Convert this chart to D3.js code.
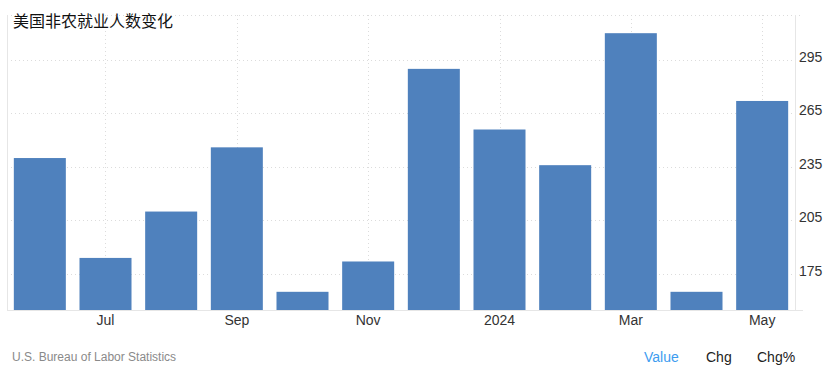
<!DOCTYPE html>
<html>
<head>
<meta charset="utf-8">
<script src="https://cdn.jsdelivr.net/npm/d3@7"></script>
<style>
  html, body { margin: 0; padding: 0; background: #fff; }
  svg { display: block; font-family: "Liberation Sans", Arial, sans-serif; }
</style>
</head>
<body>
<svg id="chart" width="836" height="371"></svg>
<script>
const months = ["Jun", "Jul", "Aug", "Sep", "Oct", "Nov", "Dec", "2024", "Feb", "Mar", "Apr", "May"];
const values = [240, 184, 210, 246, 165, 182, 290, 256, 236, 310, 165, 272];
const shownLabels = ["Jul", "Sep", "Nov", "2024", "Mar", "May"];
const yTicks = [175, 205, 235, 265, 295];
const title = "美国非农就业人数变化";
const source = "U.S. Bureau of Labor Statistics";
const buttons = ["Value", "Chg", "Chg%"];

(function () {
const svg = d3.select("#chart");
const pLeft = 7, pRight = 795, pTop = 15, pBottom = 310;

const x = d3.scaleBand().domain(months).range([pLeft, pRight]).paddingInner(0.208).paddingOuter(0.104);
const y = d3.scaleLinear().domain([154.8, 320.2]).range([pBottom, pTop]);

// horizontal grid
svg.append("g").selectAll("line").data(yTicks.concat([320.2])).join("line")
  .attr("x1", pLeft).attr("x2", pRight + 6)
  .attr("y1", d => Math.round(y(d)) + 0.5).attr("y2", d => Math.round(y(d)) + 0.5)
  .attr("stroke", "#dcdcdc").attr("stroke-width", 1).attr("stroke-dasharray", "1,3");

// vertical grid
svg.append("g").selectAll("line").data(shownLabels).join("line")
  .attr("x1", d => Math.round(x(d) + x.bandwidth() / 2) + 0.5)
  .attr("x2", d => Math.round(x(d) + x.bandwidth() / 2) + 0.5)
  .attr("y1", pTop).attr("y2", pBottom)
  .attr("stroke", "#dcdcdc").attr("stroke-width", 1).attr("stroke-dasharray", "1,3");

// bars
svg.append("g").selectAll("rect").data(values).join("rect")
  .attr("x", (d, i) => x(months[i]))
  .attr("width", x.bandwidth())
  .attr("y", d => y(d))
  .attr("height", d => pBottom - y(d))
  .attr("fill", "#4f81bd");

// axis frame lines
svg.append("line").attr("x1", pLeft + 0.5).attr("x2", pLeft + 0.5).attr("y1", pTop).attr("y2", pBottom)
  .attr("stroke", "#e6e6e6");
svg.append("line").attr("x1", pRight + 0.5).attr("x2", pRight + 0.5).attr("y1", pTop).attr("y2", pBottom)
  .attr("stroke", "#e6e6e6");
svg.append("line").attr("x1", pLeft).attr("x2", pRight + 8).attr("y1", pBottom + 0.5).attr("y2", pBottom + 0.5)
  .attr("stroke", "#e6e6e6");

// x axis labels
const xAxis = d3.axisBottom(x).tickValues(shownLabels).tickSize(0).tickPadding(0);
const gx = svg.append("g").attr("transform", `translate(0,${pBottom})`).call(xAxis);
gx.select(".domain").remove();
gx.selectAll("text").attr("font-size", 14).attr("fill", "#333").attr("dy", null).attr("y", 15)
  .attr("font-family", "'Liberation Sans', Arial, sans-serif");

// y axis labels (right)
const yAxis = d3.axisRight(y).tickValues(yTicks).tickSize(0).tickPadding(0);
const gy = svg.append("g").attr("transform", `translate(${pRight + 4},0)`).call(yAxis);
gy.select(".domain").remove();
gy.selectAll("text").attr("font-size", 14).attr("fill", "#333").attr("dy", "0.32em").attr("y", -3)
  .attr("font-family", "'Liberation Sans', Arial, sans-serif");

// title
svg.append("text").attr("x", 13).attr("y", 27).attr("font-size", 16).attr("fill", "#111")
  .attr("font-family", "'Noto Sans CJK SC', sans-serif").text(title);

// source
svg.append("text").attr("x", 12).attr("y", 361).attr("font-size", 12).attr("fill", "#8a8a8a").text(source);

// buttons
const bx = [644, 706, 757];
svg.append("g").selectAll("text").data(buttons).join("text")
  .attr("x", (d, i) => bx[i]).attr("y", 362).attr("font-size", 14)
  .attr("fill", (d, i) => i === 0 ? "#3d9cf0" : "#222").text(d => d);
})();
</script>
</body>
</html>
